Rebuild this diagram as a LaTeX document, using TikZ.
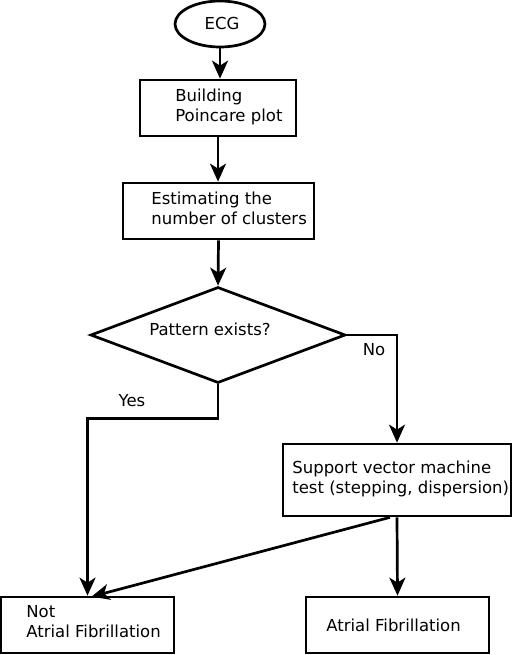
\documentclass[tikz,border=0pt]{standalone}
\usepackage{fontspec}
\setmainfont{DejaVu Sans}
\usetikzlibrary{shapes.geometric,arrows.meta,calc}
\begin{document}
\begin{tikzpicture}[x=1pt,y=-1pt,
  line width=2.7pt,
  box/.style={draw,rectangle,inner sep=0pt},
  txt/.style={inner sep=0pt,align=left,font=\fontsize{16.5}{20}\selectfont},
  flow/.style={-{Stealth[length=18pt,width=16pt,inset=5pt]}},
  line join=miter]
\useasboundingbox (0,0) rectangle (512,655);
\node[draw,ellipse,minimum width=90,minimum height=46,inner sep=0pt] (ecg) at (220,24) {};
\node[txt] (tecg) at (222,23) {ECG};
\node[box,minimum width=156,minimum height=56] (b1) at (218,108) {};
\node[txt,anchor=west] (t1) at (174,107) {Building\\Poincare plot};
\node[box,minimum width=191,minimum height=56] (b2) at (218.5,211) {};
\node[txt,anchor=west] (t2) at (150,208) {Estimating the\\number of clusters};
\node[draw,diamond,minimum width=255,minimum height=96,inner sep=0pt] (d) at (218,335) {};
\node[txt] (td) at (210,329) {Pattern exists?};
\node[box,minimum width=228,minimum height=72] (b3) at (397,480) {};
\node[txt,anchor=west] (t3) at (291,479) {Support vector machine\\test (stepping, dispersion)};
\node[box,minimum width=173,minimum height=56] (b4) at (87.5,625) {};
\node[txt,anchor=west] (t4) at (25,622) {Not\\Atrial Fibrillation};
\node[box,minimum width=183,minimum height=56] (b5) at (397.5,625) {};
\node[txt,anchor=west] (t5) at (325,625) {Atrial Fibrillation};
\node[txt] (no) at (374,350) {No};
\node[txt] (yes) at (132,401) {Yes};
\draw[flow] (ecg.south) -- (ecg.south |- b1.north);
\draw[flow] (b1.south) -- (b1.south |- b2.north);
\draw[flow] (b2.south) -- (d.north);
\draw[flow] (d.east) -| (b3.north);
\draw[flow] (d.south) -- ++(0,34) -| (b4.north);
\draw[flow] (b3.south) -- (b5.north);
\draw[flow] ([xshift=-7pt]b3.south) -- ([xshift=4pt,yshift=-1pt]b4.north);
\end{tikzpicture}
\end{document}
